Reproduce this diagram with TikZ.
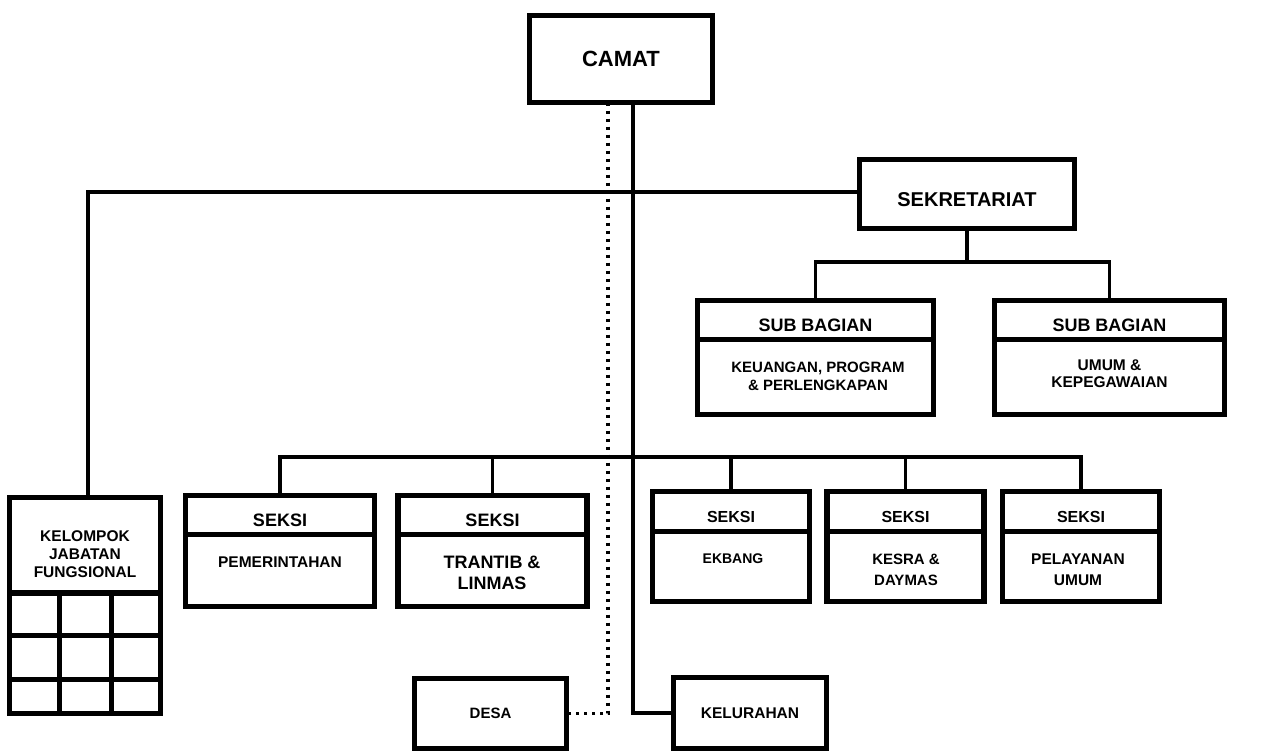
\documentclass[tikz,border=0pt]{standalone}
\usepackage{fontspec}
\setmainfont{Liberation Sans}
\usepackage{tikz}
\usetikzlibrary{positioning}
\tikzstyle{box} = [rectangle, draw, line width=5.5pt, inner sep=0pt, outer sep=0pt, font=\bfseries]
\tikzstyle{head} = [box, text height=22pt, text depth=0pt]
\tikzstyle{txt} = [align=center, inner sep=0pt]
\tikzstyle{line} = [draw, line width=3.5pt]
\tikzstyle{dotline} = [draw, line width=3.5pt, dash pattern=on 3.5pt off 4.5pt]

\begin{document}
\begin{tikzpicture}[x=1pt, y=-1pt]
    \useasboundingbox (0,0) rectangle (1273,752);
    % Place nodes
    \node [box, minimum width=183pt, minimum height=87pt, font=\bfseries\fontsize{22}{26}\selectfont] (camat) at (621,59) {CAMAT};
    \node [head, text height=24pt, minimum width=215pt, minimum height=69pt, font=\bfseries\fontsize{20}{24}\selectfont] (sekre) at (967,194) {SEKRETARIAT};

    \node [head, minimum width=236pt, minimum height=39pt, font=\bfseries\fontsize{18}{21}\selectfont] (sub1h) at (815.5,320) {SUB BAGIAN};
    \node [box, minimum width=236pt, minimum height=75pt, below=0pt of sub1h] (sub1b) {};
    \node [head, minimum width=230pt, minimum height=39pt, font=\bfseries\fontsize{18}{21}\selectfont] (sub2h) at (1109.5,320) {SUB BAGIAN};
    \node [box, minimum width=230pt, minimum height=75pt, below=0pt of sub2h] (sub2b) {};

    \node [head, minimum width=151pt, minimum height=95.5pt] (kjf) at (85,545.25) {};
    \node [box, minimum width=151pt, minimum height=120.5pt, below=0pt of kjf] (kjfb) {};

    \node [head, minimum width=189pt, minimum height=39pt, font=\bfseries\fontsize{18}{21}\selectfont] (s1h) at (280,515) {SEKSI};
    \node [box, minimum width=189pt, minimum height=72pt, below=0pt of s1h] (s1b) {};
    \node [head, minimum width=189pt, minimum height=39pt, font=\bfseries\fontsize{18}{21}\selectfont] (s2h) at (492.5,515) {SEKSI};
    \node [box, minimum width=189pt, minimum height=72pt, below=0pt of s2h] (s2b) {};
    \node [head, minimum width=157pt, minimum height=40pt, font=\bfseries\fontsize{16}{19}\selectfont] (s3h) at (731,511.5) {SEKSI};
    \node [box, minimum width=157pt, minimum height=70pt, below=0pt of s3h] (s3b) {};
    \node [head, minimum width=157pt, minimum height=40pt, font=\bfseries\fontsize{16}{19}\selectfont] (s4h) at (905.5,511.5) {SEKSI};
    \node [box, minimum width=157pt, minimum height=70pt, below=0pt of s4h] (s4b) {};
    \node [head, minimum width=157pt, minimum height=40pt, font=\bfseries\fontsize{16}{19}\selectfont] (s5h) at (1081,511.5) {SEKSI};
    \node [box, minimum width=157pt, minimum height=70pt, below=0pt of s5h] (s5b) {};

    \node [box, minimum width=152pt, minimum height=70pt, font=\bfseries\fontsize{15}{18}\selectfont] (desa) at (490.5,713.5) {DESA};
    \node [box, minimum width=153pt, minimum height=71pt, font=\bfseries\fontsize{15.5}{18}\selectfont] (kel) at (750,713) {KELURAHAN};

    % Texts
    \node [txt, font=\bfseries\fontsize{15.5}{18}\selectfont] (kjft) at (85,554.5) {KELOMPOK\\JABATAN\\FUNGSIONAL};
    \node [txt, font=\bfseries\fontsize{15}{18}\selectfont] (sub1t) at (818,376) {KEUANGAN, PROGRAM\\\& PERLENGKAPAN};
    \node [txt, font=\bfseries\fontsize{15.5}{17}\selectfont] (sub2t) at (1109.5,374) {UMUM \&\\KEPEGAWAIAN};
    \node [txt, font=\bfseries\fontsize{15.5}{21}\selectfont] (s1t) at (280,562) {PEMERINTAHAN};
    \node [txt, font=\bfseries\fontsize{18}{21}\selectfont] (s2t) at (492,572.5) {TRANTIB \&\\LINMAS};
    \node [txt, font=\bfseries\fontsize{14}{21}\selectfont] (s3t) at (733,559) {EKBANG};
    \node [txt, font=\bfseries\fontsize{15}{21}\selectfont] (s4t) at (906,569.5) {KESRA \&\\DAYMAS};
    \node [txt, font=\bfseries\fontsize{15.5}{21}\selectfont] (s5t) at (1078,569.5) {PELAYANAN\\UMUM};

    % Kelompok grid
    \draw [line width=5pt] (59,593) -- (59,713.5) (111,593) -- (111,713.5)
        (9.5,635) -- (160.5,635) (9.5,679) -- (160.5,679);

    % Draw edges
    \coordinate (subbus) at (967,262);
    \coordinate (bus) at (633,457);
    \path [line] ([xshift=12pt]camat.south) |- (kel.west);
    \path [dotline] ([xshift=-13pt]camat.south) |- (desa.east);
    \path [line] ([yshift=2pt]sekre.west) -| ([xshift=3pt]kjf.north);
    \path [line] (sekre.south) -- (subbus);
    \path [line] (sub1h.north) |- (subbus) -| (sub2h.north);
    \path [line] (s1h.north) |- (bus) -| (s5h.north);
    \path [line] (s2h.north) -- (s2h.north |- bus);
    \path [line] (s3h.north) -- (s3h.north |- bus);
    \path [line] (s4h.north) -- (s4h.north |- bus);
\end{tikzpicture}
\end{document}
